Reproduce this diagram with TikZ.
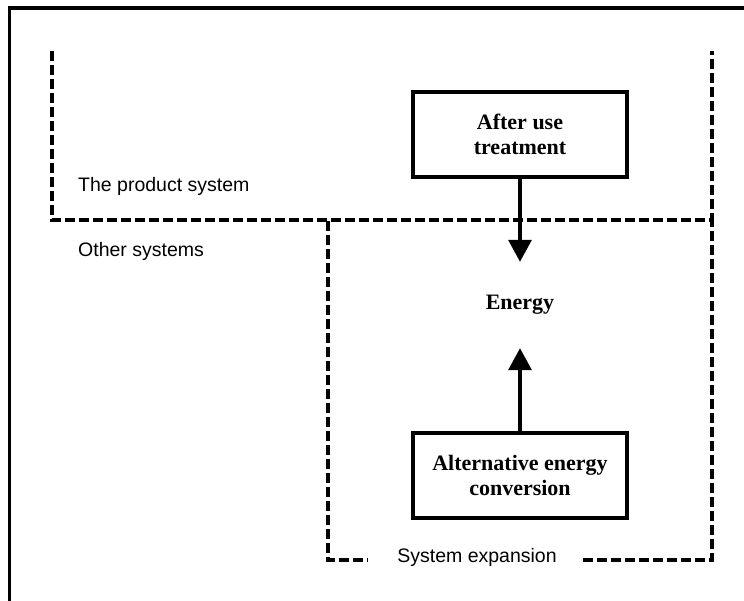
\documentclass[tikz,border=0pt]{standalone}
\usepackage{fontspec}
\setmainfont{Liberation Serif}
\setsansfont{Liberation Sans}
\usetikzlibrary{arrows.meta}
\newcommand{\lbl}      {\fontsize{19.5}{23}\selectfont\sffamily}
\newcommand{\bx}       {\fontsize{22}{25.5}\selectfont\bfseries}

\begin{document}
\begin{tikzpicture}[x=1pt,y=-1pt,
   box/.style={draw,line width=3.2pt,minimum width=214pt,minimum height=85pt,align=center,font=\bx},
   bound/.style={line width=3.6pt,dash pattern=on 10pt off 4pt},
   flow/.style={line width=3.3pt,-{Triangle[width=23pt,length=22pt]}}]
   \useasboundingbox (0,0) rectangle (744,601);
   \clip (0,0) rectangle (744,601);
   \draw[line width=3.5pt] (9.5,800) -- (9.5,8) -- (800,8);
   % product system and system expansion
   \draw[bound] (52,51) -- (52,220) -- (712,220) -- (712,51);
   \draw[bound] (328,221) -- (328,560) -- (368,560);
   \draw[bound] (583,560) -- (712,560) -- (712,221);
   \node[font=\lbl,anchor=base west,inner sep=0pt] (prod) at (78,192) {The product system};
   \node[font=\lbl,anchor=base west,inner sep=0pt] (other) at (78,257) {Other systems};
   \node[font=\lbl,anchor=base,inner sep=0pt] (expan) at (477,562.5) {System expansion};
   % boxes
   \node[box] (after) at (520,134.5) {After use\\treatment};
   \node[box] (alt) at (520,475.5) {Alternative energy\\conversion};
   \node[font=\bx,minimum height=86pt,inner sep=0pt] (energy) at (520,305) {Energy};
   \draw[flow] (after) -- (energy);
   \draw[flow] (alt) -- (energy);
\end{tikzpicture}
\end{document}
